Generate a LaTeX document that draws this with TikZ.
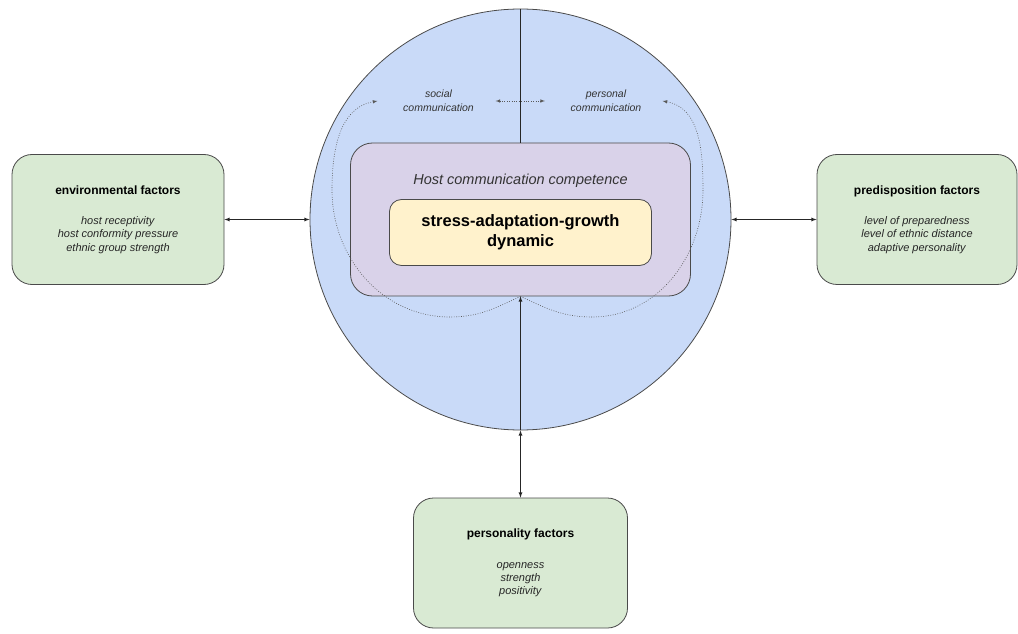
\documentclass[tikz,border=0pt]{standalone}
\usepackage{fontspec}
\setmainfont{Liberation Sans}
\usetikzlibrary{positioning}
\definecolor{ringblue}{HTML}{C9DAF8}
\definecolor{hccpurple}{HTML}{D9D2E9}
\definecolor{coreyellow}{HTML}{FFF2CC}
\definecolor{factorgreen}{HTML}{D9EAD3}
\definecolor{linegrey}{HTML}{4A4A4A}

\begin{document}
\begin{tikzpicture}[x=1pt, y=1pt, on grid, line width=0.8pt,
factor/.style ={rectangle, rounded corners=20pt, draw=linegrey, fill=factorgreen,
  minimum width=212pt, minimum height=130pt, align=center, text=black!85,
  font=\fontsize{11}{13.3}\selectfont},
ring/.style ={circle, draw=linegrey, fill=ringblue, minimum size=421pt, inner sep=0pt},
hcc/.style ={rectangle, rounded corners=22pt, draw=linegrey, fill=hccpurple,
  minimum width=340pt, minimum height=153pt},
core/.style ={rectangle, rounded corners=12pt, draw=linegrey, fill=coreyellow,
  minimum width=262pt, minimum height=66pt, align=center,
  font=\fontsize{16.5}{20}\selectfont\bfseries},
note/.style ={align=center, text=black!80, font=\fontsize{10.5}{14}\selectfont\itshape},
biarrow/.style ={latex-latex, draw=black!85},
dotlink/.style ={-latex, draw=black!65, line width=0.6pt, dash pattern=on 0.8pt off 1.6pt}]
\fill[white] (0,0) rectangle (1018,633);
\useasboundingbox (0,0) rectangle (1018,633);
\node[ring] (C) at (520.5,413.5) {};
\node[hcc] (H) at (C) {};
\node (HT) [below = 28pt of H.north, text=black!80,
  font=\fontsize{14.5}{17}\selectfont\itshape] {Host communication competence};
\node[core] (S) [below = 13pt of H] {stress-adaptation-growth\\dynamic};
\node[note] (SC) [above left = 118.5pt and 82pt of C] {social\\communication};
\node[note] (PC) [above right = 118.5pt and 85.5pt of C] {personal\\communication};
\coordinate[left = 22pt of SC.west] (SCin);
\coordinate[right = 17.5pt of PC.east] (PCin);
\node[factor] (E) [left = 402.5pt of C] {{\fontsize{12}{14}\selectfont\bfseries\color{black} environmental factors}\\[17pt]
  \textit{host receptivity}\\ \textit{host conformity pressure}\\ \textit{ethnic group strength}};
\node[factor, minimum width=200pt] (D) [right = 396.5pt of C] {{\fontsize{12}{14}\selectfont\bfseries\color{black} predisposition factors}\\[17pt]
  \textit{level of preparedness}\\ \textit{level of ethnic distance}\\ \textit{adaptive personality}};
\node[factor, minimum width=214pt] (P) [below = 343.5pt of C] {{\fontsize{12}{14}\selectfont\bfseries\color{black} personality factors}\\[17pt]
  \textit{openness}\\ \textit{strength}\\ \textit{positivity}};
% links to the outside factors
\draw[biarrow] (E) -- (C);
\draw[biarrow] (D) -- (C);
\draw[biarrow] (P) -- (C);
\draw[draw=black!85] (C.north) -- (H.north);
\draw[-latex, draw=black!85] (C.south) -- (H.south);
% dotted loops
\draw[dotlink] (H.south) to[out=205, in=0] (450,316) to[out=180, in=270] (332,443)
  to[out=90, in=190] (SCin);
\draw[dotlink] (H.south) to[out=-25, in=180] (592,316) to[out=0, in=270] (703,443)
  to[out=90, in=-10] (PCin);
\draw[dotlink, latex-latex, shorten <=18pt, shorten >=22pt] (SC) -- (PC);
\end{tikzpicture}
\end{document}
